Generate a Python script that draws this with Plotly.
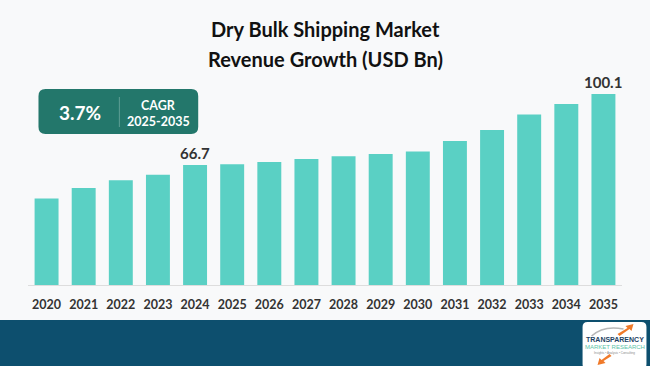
import plotly.graph_objects as go

years = ["2020", "2021", "2022", "2023", "2024", "2025", "2026", "2027",
         "2028", "2029", "2030", "2031", "2032", "2033", "2034", "2035"]
revenue = [50.9, 55.9, 59.5, 62.1, 66.7, 67.0, 68.1, 69.5,
           70.8, 71.9, 73.1, 78.0, 83.2, 90.5, 95.4, 100.1]
labeled_years = ["2024", "2035"]
title_lines = ["Dry Bulk Shipping Market", "Revenue Growth (USD Bn)"]
cagr_value = "3.7%"
cagr_label = "CAGR"
cagr_period = "2025-2035"

W, H = 650, 366
ML, MR, MT, MB = 27.5, 27.5, 60, 81
PW, PH = W - ML - MR, H - MT - MB
BG = "#f8f9fa"
BAR = "#5ad0c4"
BAND = "#0d4f6e"
BOX = "#23776b"
FONT = "Lato"


def px_x(x):
    return (x - ML) / PW


def px_y(y):
    return (H - MB - y) / PH


fig = go.Figure()
fig.add_trace(go.Bar(
    x=years, y=revenue, marker=dict(color=BAR, line=dict(width=0)),
    hoverinfo="skip", showlegend=False,
))

ann = []
for i, (yr, v) in enumerate(zip(years, revenue)):
    if yr in labeled_years:
        ann.append(dict(x=i, y=v, xref="x", yref="y", text=f"<b>{v}</b>",
                        showarrow=False, yanchor="bottom", yshift=1,
                        font=dict(family=FONT, size=15, color="#333333")))

ann.append(dict(x=px_x(325), y=px_y(29), xref="paper", yref="paper", text=f"<b>{title_lines[0]}</b>",
                showarrow=False, xanchor="center", yanchor="middle",
                font=dict(family=FONT, size=20, color="#111111")))
ann.append(dict(x=px_x(325), y=px_y(59), xref="paper", yref="paper", text=f"<b>{title_lines[1]}</b>",
                showarrow=False, xanchor="center", yanchor="middle",
                font=dict(family=FONT, size=20, color="#111111")))
ann.append(dict(x=px_x(80), y=px_y(112), xref="paper", yref="paper", text=f"<b>{cagr_value}</b>",
                showarrow=False, xanchor="center", yanchor="middle",
                font=dict(family=FONT, size=19, color="white")))
ann.append(dict(x=px_x(158), y=px_y(105), xref="paper", yref="paper", text=f"<b>{cagr_label}</b>",
                showarrow=False, xanchor="center", yanchor="middle",
                font=dict(family=FONT, size=12.5, color="white")))
ann.append(dict(x=px_x(158), y=px_y(121), xref="paper", yref="paper", text=f"<b>{cagr_period}</b>",
                showarrow=False, xanchor="center", yanchor="middle",
                font=dict(family=FONT, size=12.5, color="white")))
# logo texts
ann.append(dict(x=px_x(615), y=px_y(339), xref="paper", yref="paper", text="<b>TRANSPARENCY</b>",
                showarrow=False, xanchor="center", yanchor="middle",
                font=dict(family="Liberation Sans Narrow, Arial", size=7, color="#1d3f63")))
ann.append(dict(x=px_x(615), y=px_y(347), xref="paper", yref="paper", text="MARKET RESEARCH",
                showarrow=False, xanchor="center", yanchor="middle",
                font=dict(family="Liberation Sans Narrow, Arial", size=6, color="#5cc3a8")))
ann.append(dict(x=px_x(615), y=px_y(353), xref="paper", yref="paper", text="Insights • Analysis • Consulting",
                showarrow=False, xanchor="center", yanchor="middle",
                font=dict(family="Liberation Sans Narrow, Arial", size=3, color="#888888")))


def rounded(x0, y0, x1, y1, r):
    X0, X1 = px_x(x0), px_x(x1)
    Y0, Y1 = px_y(y0), px_y(y1)
    rx, ry = r / PW, r / PH
    return (f"M{X0+rx},{Y0} L{X1-rx},{Y0} Q{X1},{Y0} {X1},{Y0-ry} "
            f"L{X1},{Y1+ry} Q{X1},{Y1} {X1-rx},{Y1} L{X0+rx},{Y1} "
            f"Q{X0},{Y1} {X0},{Y1+ry} L{X0},{Y0-ry} Q{X0},{Y0} {X0+rx},{Y0} Z")


def poly(points):
    s = "M" + " L".join(f"{px_x(a)},{px_y(b)}" for a, b in points) + " Z"
    return s


shapes = [
    dict(type="rect", xref="paper", yref="paper", x0=px_x(-5), x1=px_x(W + 5),
         y0=px_y(H + 5), y1=px_y(320),
         fillcolor=BAND, line=dict(width=0), layer="below"),
    dict(type="path", xref="paper", yref="paper", path=rounded(38, 89, 198, 134, 7),
         fillcolor=BOX, line=dict(width=0)),
    dict(type="line", xref="paper", yref="paper", x0=px_x(119), x1=px_x(119),
         y0=px_y(97), y1=px_y(127), line=dict(color="#5f9f95", width=1)),
    dict(type="path", xref="paper", yref="paper", path=rounded(583, 322, 647, 369, 5),
         fillcolor="white", line=dict(width=0)),
    # logo swoosh and arrows
    dict(type="path", xref="paper", yref="paper",
         path=f"M{px_x(592)},{px_y(336)} Q{px_x(604)},{px_y(325)} {px_x(624)},{px_y(329)}",
         line=dict(color="#b8b8b8", width=1.5)),
    dict(type="path", xref="paper", yref="paper",
         path=poly([(618, 334), (628, 328), (626, 326), (634, 324), (632, 331), (630, 329), (620, 336)]),
         fillcolor="#f07a2a", line=dict(width=0)),
    dict(type="path", xref="paper", yref="paper",
         path=poly([(612, 356), (604, 361), (606, 363), (598, 365), (600, 358), (602, 360), (610, 354)]),
         fillcolor="#f07a2a", line=dict(width=0)),
]

fig.update_layout(
    width=W, height=H,
    margin=dict(l=ML, r=MR, t=MT, b=MB),
    paper_bgcolor=BG, plot_bgcolor=BG,
    bargap=0.355,
    xaxis=dict(type="category", range=[-0.5, len(years) - 0.5], autorange=False,
               showgrid=False, showline=True, linecolor="#dddddd", linewidth=1,
               ticks="", tickfont=dict(family=FONT, size=12.5, color="#333333"),
               ticklabelstandoff=8, fixedrange=True, tickprefix="<b>", ticksuffix="</b>"),
    yaxis=dict(range=[10.25, 116.1], visible=False, fixedrange=True),
    annotations=ann, shapes=shapes,
    showlegend=False,
)
fig.write_html("out.html", config={"displayModeBar": False},
               post_script="document.body.style.margin='0';document.body.style.overflow='hidden';")
